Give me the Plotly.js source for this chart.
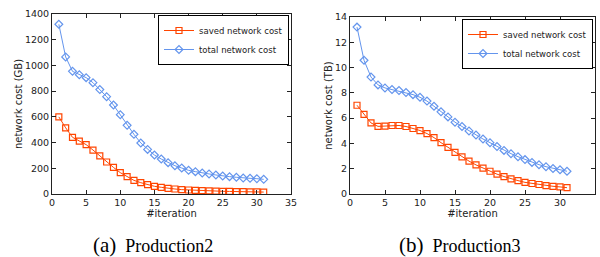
<!DOCTYPE html>
<html><head><meta charset="utf-8">
<script src="https://cdn.plot.ly/plotly-3.0.1.min.js"></script>
<style>html,body{margin:0;padding:0;background:#fff}#c{width:600px;height:257px}</style>
</head><body><div id="c"></div>
<script>
const iterations = [1,2,3,4,5,6,7,8,9,10,11,12,13,14,15,16,17,18,19,20,21,22,23,24,25,26,27,28,29,30,31];
const savedP2 = [600,515,441,412,384,342,296,249,207,166,135,106,88,73,60,52,44,39,34,31,28,26,24,22,21,20,19,18,17,16,15];
const totalP2 = [1320,1066,954,928,905,866,812,757,692,617,534,464,397,347,303,272,244,220,202,184,174,163,156,148,140,135,130,124,122,119,114];
const savedP3 = [7.02,6.3,5.62,5.35,5.37,5.42,5.42,5.34,5.18,5.02,4.78,4.46,4.06,3.69,3.29,2.94,2.6,2.3,2.04,1.8,1.57,1.38,1.2,1.06,0.92,0.83,0.75,0.67,0.61,0.56,0.5];
const totalP3 = [13.2,10.58,9.25,8.63,8.39,8.26,8.18,8.02,7.86,7.65,7.35,6.94,6.5,6.1,5.68,5.34,4.99,4.67,4.35,4.06,3.75,3.45,3.19,2.95,2.72,2.5,2.32,2.16,2.02,1.92,1.8];
const seriesNames = ["saved network cost","total network cost"];
const yTitles = ["network cost (GB)","network cost (TB)"];
const xTitle = "#iteration";
const captionLabels = ["(a)","(b)"];
const captionNames = ["Production2","Production3"];

const RED = "#ff4500", BLUE = "#6495ed";
function tr(y, name, color, sym, xa, ya, lg){
  return {x: iterations, y: y, name: name, type: "scatter", mode: "lines+markers",
    xaxis: xa, yaxis: ya, legend: lg,
    line: {color: color, width: 1},
    marker: {symbol: sym, size: 6, color: color, line: {color: color, width: 1.2}}};
}
const data = [
  tr(savedP2, seriesNames[0], RED, "square-open", "x", "y", "legend"),
  tr(totalP2, seriesNames[1], BLUE, "diamond-open", "x", "y", "legend"),
  tr(savedP3, seriesNames[0], RED, "square-open", "x2", "y2", "legend2"),
  tr(totalP3, seriesNames[1], BLUE, "diamond-open", "x2", "y2", "legend2")
];
const tickFont = {family: "DejaVu Sans", size: 9.5, color: "#222"};
const titleFont = {family: "DejaVu Sans", size: 10, color: "#222"};
function xax(domain, anchor){
  return {domain: domain, anchor: anchor, range: [0,35], dtick: 5, tick0: 0,
    showline: true, linecolor: "#222", linewidth: 1, mirror: "allticks",
    ticks: "inside", ticklen: 4, tickcolor: "#222", showgrid: false, zeroline: false,
    tickfont: tickFont, title: {text: xTitle, font: titleFont, standoff: 1}};
}
function yax(domain, anchor, range, dtick, title){
  return {domain: domain, anchor: anchor, range: range, dtick: dtick, tick0: 0,
    showline: true, linecolor: "#222", linewidth: 1, mirror: "allticks",
    ticks: "inside", ticklen: 4, tickcolor: "#222", showgrid: false, zeroline: false,
    tickfont: tickFont, title: {text: title, font: titleFont, standoff: 0}};
}
const legendStyle = {bgcolor: "#fff", bordercolor: "#000", borderwidth: 1,
  font: {family: "DejaVu Sans", size: 8.5, color: "#222"}, xanchor: "right", yanchor: "top",
  tracegroupgap: 0, itemwidth: 30};
function caption(i, xpx){
  return {text: '<span style="font-size:21px">' + captionLabels[i] + '</span>  ' + captionNames[i],
    x: xpx/600, y: 1 - 245/257, xref: "paper", yref: "paper", xanchor: "center", yanchor: "middle",
    showarrow: false, font: {family: "Liberation Serif", size: 18, color: "#000"}};
}
const layout = {
  width: 600, height: 257, margin: {l: 0, r: 0, t: 0, b: 0},
  paper_bgcolor: "#fff", plot_bgcolor: "#fff", showlegend: true,
  xaxis: xax([52/600, 291/600], "y"),
  yaxis: yax([63/257, 243/257], "x", [0,1400], 200, yTitles[0]),
  xaxis2: xax([350/600, 595/600], "y2"),
  yaxis2: yax([63/257, 240/257], "x2", [0,14], 2, yTitles[1]),
  legend: Object.assign({x: 289/600, y: 1 - 15/257}, legendStyle),
  legend2: Object.assign({x: 593/600, y: 1 - 19/257}, legendStyle),
  annotations: [caption(0, 153), caption(1, 460)]
};
Plotly.newPlot("c", data, layout, {displayModeBar: false, staticPlot: true});
</script></body></html>
